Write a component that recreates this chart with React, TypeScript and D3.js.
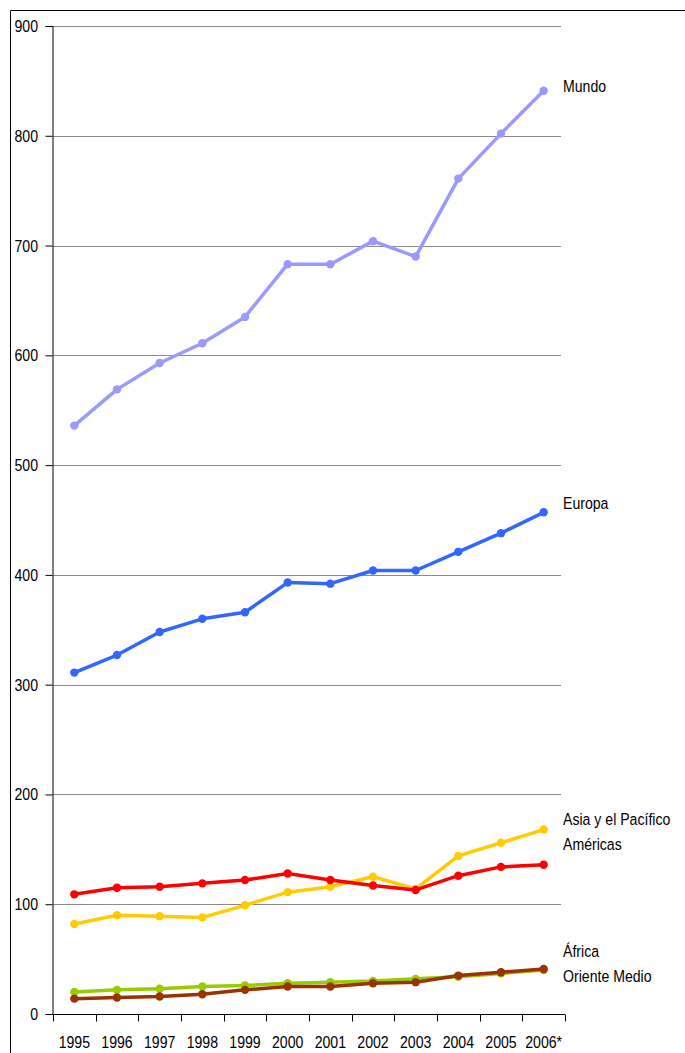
import React, { useEffect, useRef } from 'react';
import * as d3 from 'd3';

const years = ['1995', '1996', '1997', '1998', '1999', '2000', '2001', '2002', '2003', '2004', '2005', '2006*'];
const yTicks = [0, 100, 200, 300, 400, 500, 600, 700, 800, 900];

const mundo = [536, 569, 593, 611, 635, 683, 683, 704, 690, 761, 802, 841];
const europa = [311, 327, 348, 360, 366, 393, 392, 404, 404, 421, 438, 457];
const asiaPacifico = [82, 90, 89, 88, 99, 111, 116, 125, 114, 144, 156, 168];
const americas = [109, 115, 116, 119, 122, 128, 122, 117, 113, 126, 134, 136];
const africa = [20, 22, 23, 25, 26, 28, 29, 30, 32, 34, 37, 40];
const orienteMedio = [14, 15, 16, 18, 22, 25, 25, 28, 29, 35, 38, 41];

const seriesNames = ['Mundo', 'Europa', 'Asia y el Pacífico', 'Américas', 'África', 'Oriente Medio'];
const seriesColors = ['#9999ff', '#3366ff', '#ffcc00', '#ff0000', '#99cc00', '#993300'];
const seriesValues = [mundo, europa, asiaPacifico, americas, africa, orienteMedio];
// baseline of each right-hand name, in data units
const labelAt = [840, 460, 172, 149, 52, 29];
// drawing order: bottom first
const drawOrder = [4, 5, 2, 3, 1, 0];

const FONT = '"Liberation Sans", Arial, sans-serif';
const NARROW = 0.83; // squeeze to look like Arial Narrow
const FS = 17;

export default function App() {
  const svgRef = useRef<SVGSVGElement>(null);

  useEffect(() => {
    if (!svgRef.current) return;
    const svg = d3.select(svgRef.current);
    svg.selectAll('*').remove();

    const width = 685;
    const height = 1053;
    const margin = { left: 53, right: 120, top: 26, bottom: 39 };

    const narrowText = (
      parent: d3.Selection<any, any, any, any>,
      tx: number, ty: number, label: string, anchor = 'start'
    ) => parent.append('text')
      .attr('transform', `translate(${tx},${ty}) scale(${NARROW},1)`)
      .attr('text-anchor', anchor)
      .attr('font-family', FONT)
      .attr('font-size', FS)
      .attr('fill', '#000')
      .text(label);

    // outer frame
    svg.append('path')
      .attr('d', `M10.5,${height} V10.5 H${width}`)
      .attr('fill', 'none')
      .attr('stroke', '#000')
      .attr('stroke-width', 1);

    const x = d3.scaleBand<string>()
      .domain(years)
      .range([margin.left, width - margin.right])
      .paddingInner(0)
      .paddingOuter(0);

    const y = d3.scaleLinear()
      .domain([0, 900])
      .range([height - margin.bottom, margin.top]);

    // gridlines
    svg.append('g')
      .selectAll('line')
      .data(yTicks.filter(d => d > 0))
      .enter()
      .append('line')
      .attr('x1', margin.left)
      .attr('x2', 561)
      .attr('y1', d => Math.round(y(d)) + 0.5)
      .attr('y2', d => Math.round(y(d)) + 0.5)
      .attr('stroke', '#8a8a8a')
      .attr('stroke-width', 1);

    // y axis
    const yAxis = svg.append('g')
      .attr('transform', `translate(${margin.left - 0.5},0)`)
      .call(d3.axisLeft(y).tickValues(yTicks).tickSize(7).tickFormat(() => ''));
    yAxis.select('.domain').attr('stroke', '#000');
    yAxis.selectAll('.tick line').attr('stroke', '#000');
    const yLabels = svg.append('g');
    yTicks.forEach(t => narrowText(yLabels, 38, y(t) + 6, String(t), 'end'));

    // x axis baseline and ticks between categories
    const baseY = Math.round(y(0)) + 0.5;
    svg.append('line')
      .attr('x1', margin.left - 7)
      .attr('x2', x.range()[1])
      .attr('y1', baseY)
      .attr('y2', baseY)
      .attr('stroke', '#000');

    const tickXs = years.map(d => x(d) as number).concat([x.range()[1]]);
    svg.append('g')
      .selectAll('line')
      .data(tickXs)
      .enter()
      .append('line')
      .attr('x1', d => Math.round(d) + 0.5)
      .attr('x2', d => Math.round(d) + 0.5)
      .attr('y1', baseY)
      .attr('y2', baseY + 7)
      .attr('stroke', '#000');

    const xLabels = svg.append('g');
    years.forEach(d => narrowText(xLabels, (x(d) as number) + x.bandwidth() / 2, height - 5, d, 'middle'));

    const cx = (i: number) => (x(years[i]) as number) + x.bandwidth() / 2;

    const line = d3.line<number>()
      .x((_, i) => cx(i))
      .y(d => y(d));

    drawOrder.forEach(s => {
      const g = svg.append('g');
      g.append('path')
        .datum(seriesValues[s])
        .attr('fill', 'none')
        .attr('stroke', seriesColors[s])
        .attr('stroke-width', 3.5)
        .attr('stroke-linejoin', 'round')
        .attr('d', line);
      g.selectAll('circle')
        .data(seriesValues[s])
        .enter()
        .append('circle')
        .attr('cx', (_, i) => cx(i))
        .attr('cy', d => y(d))
        .attr('r', 4.2)
        .attr('fill', seriesColors[s]);
    });

    // series names on the right
    const names = svg.append('g');
    seriesNames.forEach((n, i) => narrowText(names, 563, y(labelAt[i]), n));
  }, []);

  return (
    <svg ref={svgRef} width={685} height={1053}
      style={{ position: 'absolute', left: 0, top: 0, background: '#fff' }} />
  );
}
